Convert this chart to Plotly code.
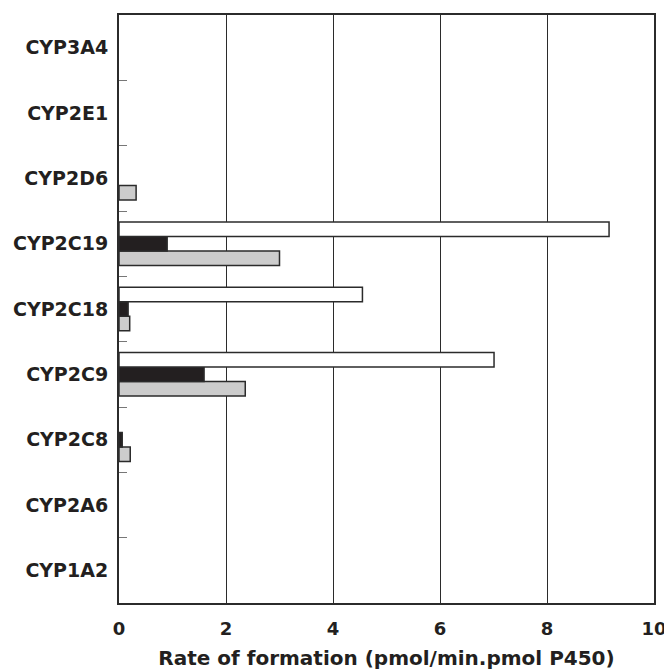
import plotly.graph_objects as go

categories = ["CYP1A2", "CYP2A6", "CYP2C8", "CYP2C9", "CYP2C18", "CYP2C19", "CYP2D6", "CYP2E1", "CYP3A4"]
# None = no bar drawn
white_vals = [None, None, None, 7.01, 4.55, 9.16, None, None, None]
black_vals = [None, None, 0.06, 1.59, 0.17, 0.90, None, None, None]
gray_vals = [None, None, 0.21, 2.36, 0.20, 3.00, 0.32, None, None]
x_ticks = [0, 2, 4, 6, 8, 10]

FONT = "DejaVu Sans"
line = dict(color="#2b2b2b", width=1.5)

fig = go.Figure()
# order bottom -> top within a group: gray, black, white
fig.add_trace(go.Bar(y=categories, x=gray_vals, orientation="h",
                     marker=dict(color="#cccccc", line=line), name="gray"))
fig.add_trace(go.Bar(y=categories, x=black_vals, orientation="h",
                     marker=dict(color="#231f20", line=line), name="black"))
fig.add_trace(go.Bar(y=categories, x=white_vals, orientation="h",
                     marker=dict(color="#ffffff", line=line), name="white"))

# page has an 8px body margin, so the figure is drawn slightly smaller
fig.update_layout(
    width=664, height=664,
    margin=dict(l=111, r=15, t=5, b=69),
    plot_bgcolor="white", paper_bgcolor="white",
    barmode="group", bargap=0.335, bargroupgap=0,
    showlegend=False,
    font=dict(family=FONT, color="#231f20"),
)
fig.update_xaxes(
    range=[0, 10], tickvals=x_ticks, ticktext=[str(v) for v in x_ticks],
    showgrid=True, gridcolor="#2b2b2b", gridwidth=1,
    showline=True, linecolor="#2b2b2b", linewidth=2, mirror=True,
    ticks="", zeroline=False, ticklabelstandoff=8,
    tickfont=dict(family=FONT, size=18, color="#231f20", weight="bold"),
    title=dict(text="Rate of formation (pmol/min.pmol P450)",
               font=dict(family=FONT, size=20, color="#231f20", weight="bold"),
               standoff=13),
)
fig.update_yaxes(
    categoryorder="array", categoryarray=categories,
    showline=True, linecolor="#2b2b2b", linewidth=2, mirror=True,
    showgrid=False, zeroline=False,
    ticks="inside", tickson="boundaries", ticklen=8, tickcolor="#777777", tickwidth=1,
    ticklabelstandoff=5,
    tickfont=dict(family=FONT, size=19, color="#231f20", weight="bold"),
)

fig.write_html("out.html")
